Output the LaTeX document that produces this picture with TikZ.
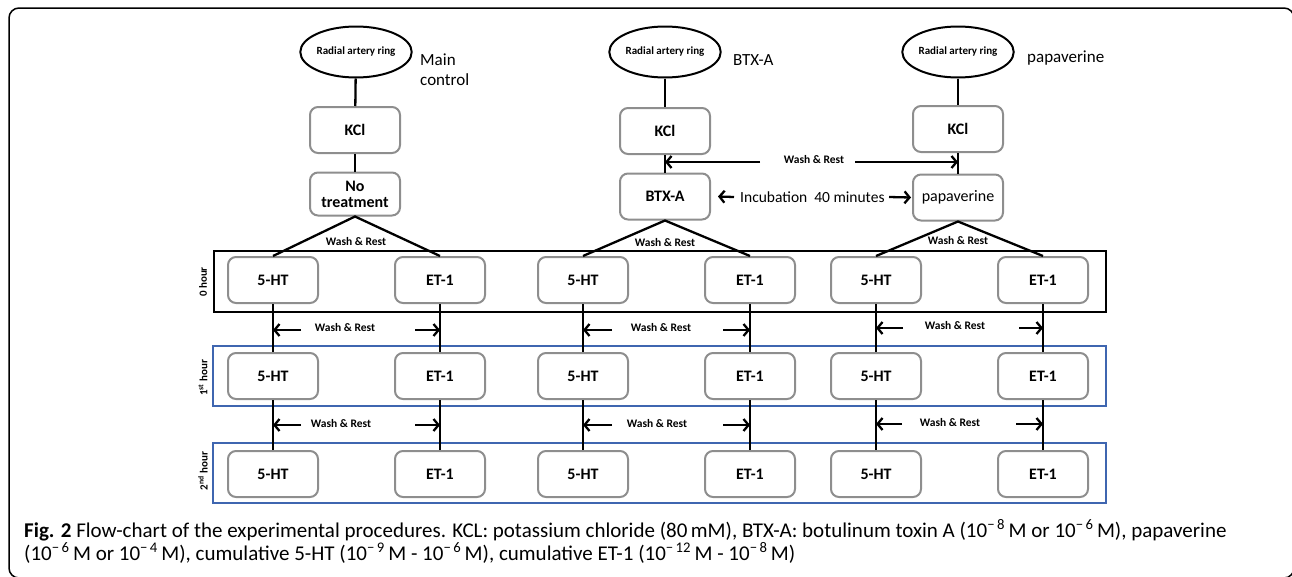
\documentclass[tikz,border=0pt]{standalone}
\usepackage{fontspec}
\setmainfont{Carlito}
\usetikzlibrary{shapes.geometric,arrows.meta}
\definecolor{boxgray}{HTML}{8E8E8E}
\definecolor{hourblue}{HTML}{3F66B0}
\begin{document}
\begin{tikzpicture}[x=1pt,y=-1pt,
  box/.style={draw=boxgray, line width=2pt, rounded corners=8pt, minimum width=90pt, minimum height=46pt, inner sep=2pt, align=center, font=\bfseries\fontsize{16}{18}\selectfont},
  ring/.style={ellipse, draw, line width=2pt, minimum width=95pt, minimum height=51pt, inner sep=0pt, font=\bfseries\fontsize{11}{13}\selectfont},
  conn/.style={line width=2.3pt},
  arr/.style={line width=2.3pt, -{Straight Barb[length=5pt,width=12pt]}},
  wr/.style={font=\bfseries\fontsize{11.5}{13}\selectfont, inner sep=0pt},
  lab/.style={font=\fontsize{17}{20}\selectfont, align=left, anchor=west, inner sep=0pt},
  hourlab/.style={rotate=90, font=\bfseries\fontsize{11}{13}\selectfont, inner sep=0pt},
  hourframe/.style={draw=hourblue, line width=1.2pt}
]
\useasboundingbox (0,0) rectangle (1292,576);
\begin{scope}
\clip (0,0) rectangle (1292,576);
\draw[line width=1.5pt, rounded corners=10pt] (9,8) rectangle (1294,578);
\end{scope}

% hour frames
\draw[line width=1.4pt] (214,251) rectangle (1106,312);
\draw[hourframe] (213,346) rectangle (1106,406);
\draw[hourframe] (213,443) rectangle (1106,503);
\node[hourlab] (hl0) at (203,282) {0 hour};
\node[hourlab] (hl1) at (203,378) {1\textsuperscript{st} hour};
\node[hourlab] (hl2) at (203,471) {2\textsuperscript{nd} hour};

% top part
\node[ring] (r1) at (356,52) {Radial artery ring};
\node[ring] (r2) at (665,52) {Radial artery ring};
\node[ring] (r3) at (958,52) {Radial artery ring};
\node[box] (k1) at (355,130) {KCl};
\node[box] (k2) at (665,131) {KCl};
\node[box] (k3) at (958,129) {KCl};
\node[box, minimum height=43pt] (t1) at (355,194) {No\\[-2pt]treatment};
\node[box] (t2) at (665,196.5) {BTX-A};
\node[box, font=\fontsize{16}{18}\selectfont] (t3) at (958,197.5) {papaverine};

\node[lab] (l1) at (420,70) {Main\\control};
\node[lab] (l2) at (733,60) {BTX-A};
\node[lab] (l3) at (1027,58) {papaverine};

\foreach \a/\b in {r1/k1,k1/t1,r2/k2,k2/t2,r3/k3,k3/t3}{\draw[conn] (\a) -- (\b);}

\coordinate (wa) at (760,162);
\coordinate (wb) at (855,162);
\draw[arr] (wa) -- (wa -| k2);
\draw[arr] (wb) -- (wb -| k3);
\node[wr] (wrt) at (814,160) {Wash \& Rest};

\coordinate (ia) at (734,197);
\coordinate (ib) at (889,197);
\draw[arr] (ia) -- ([xshift=7pt]t2.east);
\draw[arr] (ib) -- ([xshift=-1pt]t3.west);
\node[lab, font=\fontsize{15.5}{18}\selectfont] (inc) at (740,197) {Incubation\ \ 40 minutes};

% grid of boxes
\foreach \c/\xs/\xe in {1/273/440, 2/583/750, 3/876/1043}{
  \foreach \r/\y in {0/280,1/376,2/474}{
    \node[box] (h\c\r) at (\xs,\y) {5-HT};
    \node[box] (e\c\r) at (\xe,\y) {ET-1};
  }
  \draw[conn] (h\c0) -- (h\c1);
  \draw[conn] (h\c1) -- (h\c2);
  \draw[conn] (e\c0) -- (e\c1);
  \draw[conn] (e\c1) -- (e\c2);
  \draw[conn] (h\c0.north) -- (t\c.south) -- (e\c0.north);
}
\node[wr] (tw1) at (356,242) {Wash \& Rest};
\node[wr] (tw2) at (665,243) {Wash \& Rest};
\node[wr] (tw3) at (958,241) {Wash \& Rest};

% wash & rest arrows between rows
\foreach \c/\g/\xl/\xm/\xr/\y in {1/a/301/345/415/330, 1/b/301/341/415/425,
   2/a/612/661/723/330, 2/b/612/657/723/425,
   3/a/903/955/1019/328, 3/b/902/950/1016/424}{
  \coordinate (wl\c\g) at (\xl,\y);
  \coordinate (wr\c\g) at (\xr,\y);
  \draw[arr] (wl\c\g) -- (wl\c\g -| h\c0);
  \draw[arr] (wr\c\g) -- (wr\c\g -| e\c0);
  \node[wr] (wt\c\g) at (\xm,\y-2) {Wash \& Rest};
}

% caption
\node[anchor=base west, inner sep=0pt, font=\fontsize{21}{24}\selectfont] (cap1) at (24,537)
  {\textbf{Fig. 2} Flow-chart of the experimental procedures. KCL: potassium chloride (80\,mM), BTX-A: botulinum toxin A (10\textsuperscript{−\,8}\,M or 10\textsuperscript{−\,6}\,M), papaverine};
\node[anchor=base west, inner sep=0pt, font=\fontsize{21}{24}\selectfont] (cap2) at (24,560)
  {(10\textsuperscript{−\,6}\,M or 10\textsuperscript{−\,4}\,M), cumulative 5-HT (10\textsuperscript{−\,9}\,M - 10\textsuperscript{−\,6}\,M), cumulative ET-1 (10\textsuperscript{−\,12}\,M - 10\textsuperscript{−\,8}\,M)};
\end{tikzpicture}
\end{document}
